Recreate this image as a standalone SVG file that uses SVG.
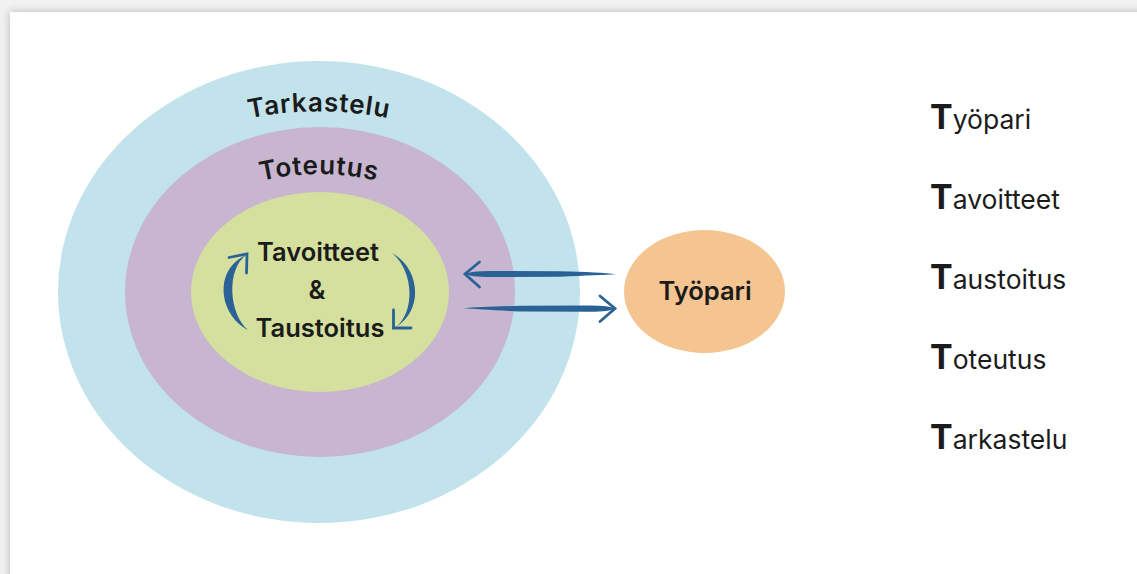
<svg xmlns="http://www.w3.org/2000/svg" width="1137" height="574" viewBox="0 0 1137 574">
  <defs>
    <filter id="shadow" x="-5%" y="-5%" width="110%" height="110%">
      <feGaussianBlur in="SourceAlpha" stdDeviation="4"/>
      <feOffset dx="0" dy="0" result="b"/>
      <feComponentTransfer><feFuncA type="linear" slope="0.25"/></feComponentTransfer>
      <feMerge><feMergeNode/><feMergeNode in="SourceGraphic"/></feMerge>
    </filter>
    <path id="arcOuter" d="M 246 119 A 350 350 0 0 1 392 119"/>
    <path id="arcMid" d="M 252 183 A 260 260 0 0 1 386 183"/>
  </defs>
  <style>
    .lbl { font-family: Inter, "Liberation Sans", sans-serif; fill: #1b1b1b; }
    .ring { font-size: 26px; font-weight: 600; letter-spacing: 0.8px; }
    .core { font-size: 25.5px; font-weight: 600; }
    .list { font-size: 26.5px; font-weight: 400; }
    .big { font-size: 34px; font-weight: 700; }
    .arrowfill { fill: #2A6296; }
    .chev { fill: none; stroke: #2A6296; stroke-width: 2.8; stroke-linecap: round; stroke-linejoin: miter; }
  </style>

  <rect x="0" y="0" width="1137" height="574" fill="#f1f1f1"/>
  <rect x="10" y="12" width="1160" height="600" fill="#ffffff" filter="url(#shadow)"/>

  <g id="node-tarkastelu">
    <ellipse cx="319" cy="292" rx="261" ry="231" fill="#C2E3EB"/>
    <text class="lbl ring"><textPath href="#arcOuter" startOffset="50%" text-anchor="middle">Tarkastelu</textPath></text>
  </g>

  <g id="node-toteutus">
    <ellipse cx="320" cy="292" rx="195" ry="165" fill="#C8B5D0"/>
    <text class="lbl ring"><textPath href="#arcMid" startOffset="50%" text-anchor="middle">Toteutus</textPath></text>
  </g>

  <g id="node-core">
    <ellipse cx="320" cy="292" rx="129" ry="100" fill="#D5E09F"/>
    <text class="lbl core" x="318" y="261" text-anchor="middle">Tavoitteet</text>
    <text class="lbl core" x="317" y="299" text-anchor="middle">&amp;</text>
    <text class="lbl core" x="320" y="337" text-anchor="middle">Taustoitus</text>
  </g>

  <g id="node-tyopari">
    <ellipse cx="704.5" cy="291.5" rx="80.5" ry="61.5" fill="#F5C591"/>
    <text class="lbl core" x="705" y="300" text-anchor="middle">Työpari</text>
  </g>

  <g id="legend">
    <text class="lbl list" x="930" y="129"><tspan class="big">T</tspan>yöpari</text>
    <text class="lbl list" x="930" y="209"><tspan class="big">T</tspan>avoitteet</text>
    <text class="lbl list" x="930" y="289"><tspan class="big">T</tspan>austoitus</text>
    <text class="lbl list" x="930" y="369"><tspan class="big">T</tspan>oteutus</text>
    <text class="lbl list" x="930" y="449"><tspan class="big">T</tspan>arkastelu</text>
  </g>

  <g id="connectors">
    <!-- cycle left arc (up) -->
    <path class="arrowfill" d="M 248 330 C 219 315 213 270 246 255 C 226 270 229 314 248 330 Z"/>
    <polyline class="chev" points="229,257.5 247,254 246.5,273"/>
    <!-- cycle right arc (down) -->
    <path class="arrowfill" d="M 392 253 C 420 268 424 310 396 327 C 416 310 413 270 392 253 Z"/>
    <polyline class="chev" points="393.5,310 393.5,328 411,328"/>
    <!-- Työpari -> circles (left) -->
    <path class="arrowfill" d="M 466 274 Q 470 271 490 271 L 560 271.2 Q 600 272 616 274.3 Q 600 275 560 276.8 L 490 277 Q 470 277 466 274 Z"/>
    <polyline class="chev" points="479.5,262 465,274 479.5,287"/>
    <!-- circles -> Työpari (right) -->
    <path class="arrowfill" d="M 614 308.5 Q 610 305.5 590 305.5 L 520 305.8 Q 480 307 463 308.3 Q 480 309.5 520 311.5 L 590 311.8 Q 610 311.8 614 308.5 Z"/>
    <polyline class="chev" points="600,296 615,308.5 600,321.5"/>
  </g>
</svg>
